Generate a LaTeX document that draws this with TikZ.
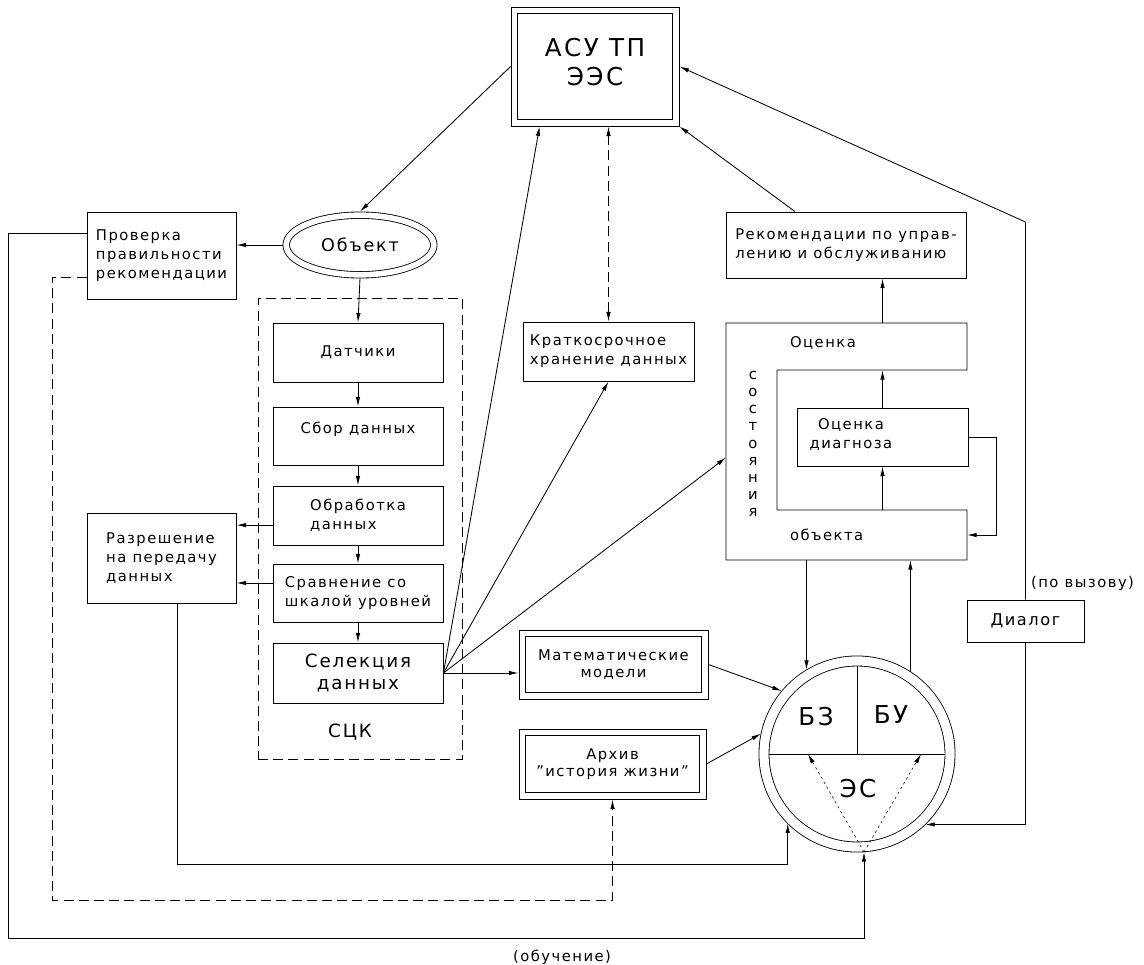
\documentclass[tikz,border=0pt]{standalone}
\usepackage{fontspec}
\setmainfont{DejaVu Sans}[LetterSpace=10]
\usepackage{tikz}
\usetikzlibrary{positioning}
\usetikzlibrary{shapes.geometric}
\usetikzlibrary{arrows.meta}

% second (inner) frame of a double box
\newcommand{\inframe}[2][1.8mm]{\draw ([shift={(#1,#1)}]#2.south west) rectangle ([shift={(-#1,-#1)}]#2.north east);}

\begin{document}
\begin{tikzpicture}[
  x=0.025cm, y=-0.025cm,
  line width=0.6pt,
  font=\fontsize{10.5}{13.5}\selectfont,
  box/.style={draw, align=left, inner sep=2pt},
  dblbox/.style={draw, align=center, inner sep=2pt},
  dblround/.style={draw, double, inner sep=0pt},
  big/.style={font=\fontsize{17.5}{20.6}\selectfont},
  arrow/.style={-{Latex[length=2.4mm, width=1.1mm]}},
  dashedarrow/.style={arrow, dash pattern=on 2.5mm off 1.3mm},
  bothways/.style={{Latex[length=2.4mm, width=1.1mm]}-{Latex[length=2.4mm, width=1.1mm]}, dash pattern=on 2.5mm off 1.3mm},
  dottedarrow/.style={arrow, line width=0.4pt, dash pattern=on 0.6mm off 0.8mm}
]
\useasboundingbox (0,0) rectangle (1144,965);

% Top: АСУ and the object
\node[dblbox, big, minimum width=4.2cm, minimum height=2.975cm, text depth=0.25cm] (asu) at (595,66.5) {АСУ ТП\\ЭЭС};
\inframe{asu}
\node[dblround, ellipse, double distance=1.4mm, outer sep=0.9mm, minimum width=3.69cm, minimum height=1.49cm, font=\fontsize{12.5}{15}\selectfont] (obj) at (360,245) {Объект};

% Left column
\node[box, minimum width=3.725cm, minimum height=2.175cm] (check) at (161.5,255.5) {Проверка\\правильности\\рекомендации};
\node[box, minimum width=3.725cm, minimum height=2.25cm] (perm) at (161.5,558) {Разрешение\\на передачу\\данных};

% СЦК
\node[draw, dash pattern=on 2.5mm off 1.3mm, minimum width=5.1cm, minimum height=11.525cm] (sck) at (360,528.5) {};
\node[font=\fontsize{13}{15}\selectfont] (sck-lbl) at (350,732) {СЦК};

\node[box, align=center, minimum width=4.25cm, minimum height=1.475cm] (sens) at (358,352.5) {Датчики};
\node[box, align=center, minimum width=4.25cm, minimum height=1.45cm, text depth=0.4cm] (coll) at (358,436) {Сбор данных};
\node[box, minimum width=4.25cm, minimum height=1.475cm] (proc) at (358,515.5) {Обработка\\данных};
\node[box, minimum width=4.25cm, minimum height=1.45cm] (comp) at (358,593) {Сравнение со\\шкалой уровней};
\node[box, align=center, minimum width=4.25cm, minimum height=1.5cm, font=\fontsize{13}{15.5}\selectfont] (sel) at (358,673) {Селекция\\данных};

% Middle and right
\node[box, minimum width=4.275cm, minimum height=1.475cm] (store) at (608.5,351.5) {Краткосрочное\\хранение данных};
\node[box, minimum width=6cm, minimum height=1.65cm] (rec) at (846,245) {Рекомендации по управ-\\лению и обслуживанию};

% Оценка состояния объекта (C-shaped block)
\node[minimum width=6.025cm, minimum height=5.925cm, inner sep=0pt, outer sep=0pt] (state) at (846.5,441.5) {};
\coordinate (arm0) at (967,370);
\coordinate (arm1) at (777,370);
\coordinate (arm2) at (777,510);
\coordinate (arm3) at (967,510);
\draw (state.north west) -- (state.north east) -- (arm0) -- (arm1) -- (arm2) -- (arm3) -- (state.south east) -- (state.south west) -- cycle;
\node[anchor=west] (st-top) at (785,343) {Оценка};
\node[anchor=west] (st-bot) at (785,535) {объекта};
\node[align=center, font=\fontsize{10.5}{12.2}\selectfont] (st-side) at (753,444) {с\\о\\с\\т\\о\\я\\н\\и\\я};

\node[box, minimum width=4.275cm, minimum height=1.45cm] (diag) at (882.5,437) {};
\node[align=center] (diag-txt) at (851,435) {Оценка\\диагноза};

% Models, archive, expert system
\node[dblbox, minimum width=4.725cm, minimum height=1.725cm, font=\fontsize{10.5}{12.5}\selectfont] (mm) at (613.5,664.5) {Математические\\модели};
\inframe{mm}
\node[dblbox, minimum width=4.675cm, minimum height=1.75cm, font=\fontsize{10.5}{12.5}\selectfont] (arch) at (612.5,764) {Архив\\"история жизни"};
\inframe[1.7mm]{arch}

\node[dblround, circle, double distance=2.3mm, outer sep=1.25mm, minimum size=4.65cm] (es) at (857,754) {};
\draw ([xshift=-2.2cm]es.center) -- ([xshift=2.2cm]es.center);
\draw (es.center) -- ([yshift=2.2cm]es.center);
\node[big] (bz) at (816,717) {БЗ};
\node[big] (bu) at (891,715) {БУ};
\node[big] (esl) at (858,789) {ЭС};
\coordinate (es-b) at ([xshift=1.75mm]es.south);

\node[box, align=center, minimum width=2.925cm, minimum height=1.05cm, font=\fontsize{11.5}{14}\selectfont] (dlg) at (1025.5,621) {Диалог};
\node[anchor=west] (call) at (1026,583) {(по вызову)};
\node (learn) at (562,957) {(обучение)};

% helper lanes
\coordinate (lane1) at (0,864);
\coordinate (lane2) at (0,900);
\coordinate (lane3) at (0,938);
\coordinate (edge1) at (8,0);
\coordinate (edge2) at (52,0);
\coordinate (bend) at (0,222);

% Object and СЦК chain
\draw[arrow] (asu.west) -- (obj.north);
\draw[arrow] (obj.west) -- (obj.west -| check.east);
\draw[arrow] (obj.south) -- (sens.north);
\draw[arrow] (sens) -- (coll);
\draw[arrow] (coll) -- (proc);
\draw[arrow] (proc) -- (comp);
\draw[arrow] (comp) -- (sel);
\draw[arrow] ([yshift=-2.4mm]proc.west) -- ([yshift=-2.4mm]proc.west -| perm.east);
\draw[arrow] ([yshift=2.5mm]comp.west) -- ([yshift=2.5mm]comp.west -| perm.east);

% Fan out of the selection block
\draw[arrow] (sel.east) -- ([xshift=7.25mm]asu.south west);
\draw[arrow] (sel.east) -- (store.south);
\draw[arrow] (sel.east) -- ([yshift=-4mm]state.west);
\draw[arrow] (sel.east) -- (sel.east -| mm.west);
\draw[bothways] (store.north) -- (store.north |- asu.south);

% Into the expert system
\draw[arrow] (mm.east) -- (es.140);
\draw[arrow] (arch.east) -- (es.168);
\draw[arrow] ([xshift=4mm]perm.south) |- (es.225 |- lane1) -- (es.225);
\draw[arrow] ([yshift=5.6mm]check.west) -| (edge1 |- lane3) -| (es-b);
\draw[dashedarrow] ([yshift=-5.4mm]check.west) -| (edge2 |- lane2) -| (arch.south);
\draw[dottedarrow] (es-b) -- ([xshift=-1.225cm]es.center);
\draw[dottedarrow] (es-b) -- ([xshift=1.6cm]es.center);

% State evaluation loop
\draw[arrow] (diag.north) -- (diag.north |- arm1);
\draw[arrow] (diag.south |- arm2) -- (diag.south);
\draw[arrow] (diag.east) -- ++(0.7cm,0) |- ([yshift=6.25mm]state.south east);
\draw[arrow] (diag.north |- state.north) -- (diag.north |- rec.south);
\draw[arrow] (state.south -| es.121) -- (es.121);
\draw[arrow] (es.57) -- (es.57 |- state.south);
\draw[arrow] ([xshift=-1.275cm]rec.north) -- (asu.south east);

% Dialog
\draw[arrow] (dlg.north) -- (dlg.north |- bend) -- (asu.east);
\draw[arrow] (dlg.south) |- (es.-46);

\end{tikzpicture}
\end{document}
